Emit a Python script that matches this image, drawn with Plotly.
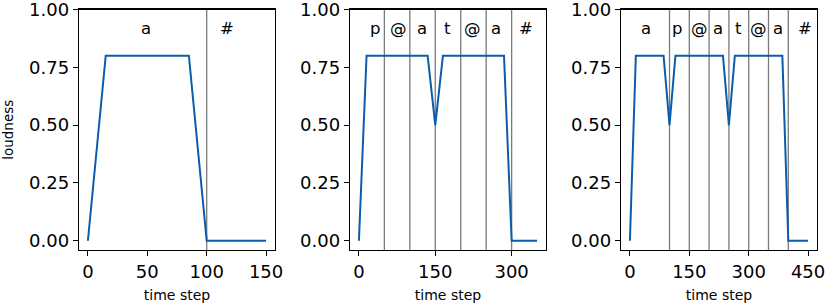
import plotly.graph_objects as go

# Panel 1: "a"
t1 = [0, 15, 85, 100, 150]
v1 = [0, 0.8, 0.8, 0, 0]
bounds1 = [100]
labels1 = ["a", "#"]
label_x1 = [49, 117]
ticks1 = [0, 50, 100, 150]

# Panel 2: "p@at@a"
t2 = [0, 15, 135, 150, 165, 285, 300, 350]
v2 = [0, 0.8, 0.8, 0.5, 0.8, 0.8, 0, 0]
bounds2 = [50, 100, 150, 200, 250, 300]
labels2 = ["p", "@", "a", "t", "@", "a", "#"]
label_x2 = [32, 77, 123, 174, 223, 270, 329]
ticks2 = [0, 150, 300]

# Panel 3: "ap@at@a"
t3 = [0, 15, 85, 100, 115, 235, 250, 265, 385, 400, 450]
v3 = [0, 0.8, 0.8, 0.5, 0.8, 0.8, 0.5, 0.8, 0.8, 0, 0]
bounds3 = [100, 150, 200, 250, 300, 350, 400]
labels3 = ["a", "p", "@", "a", "t", "@", "a", "#"]
label_x3 = [40, 120, 177, 223, 275, 326, 374, 441]
ticks3 = [0, 150, 300, 450]

yticks = [0, 0.25, 0.5, 0.75, 1.0]
ytick_text = ["0.00", "0.25", "0.50", "0.75", "1.00"]

W, H = 829, 306
xdoms = [(79 / W, 275 / W), (350 / W, 546 / W), (621 / W, 817 / W)]
ydom = ((H - 250) / H, (H - 9.5) / H)

panels = [
    (t1, v1, bounds1, labels1, label_x1, ticks1),
    (t2, v2, bounds2, labels2, label_x2, ticks2),
    (t3, v3, bounds3, labels3, label_x3, ticks3),
]

FONT = "DejaVu Sans"
LINE = "#0b5cad"

fig = go.Figure()
shapes = []
annotations = []
layout = {}
for i, (t, v, bounds, labels, lx, ticks) in enumerate(panels):
    n = i + 1
    xa = "x" if n == 1 else f"x{n}"
    ya = "y" if n == 1 else f"y{n}"
    xmax = t[-1]
    pad = xmax * 0.05
    for b in bounds:
        shapes.append(dict(type="line", xref=xa, yref=f"{ya} domain", x0=b, x1=b,
                           y0=0, y1=1, line=dict(color="#7a7a7a", width=1.3), layer="below"))
    fig.add_trace(go.Scatter(x=t, y=v, mode="lines", line=dict(color=LINE, width=2),
                             xaxis=xa, yaxis=ya, showlegend=False, hoverinfo="skip"))
    for lab, x in zip(labels, lx):
        annotations.append(dict(x=x, y=0.92, xref=xa, yref=ya, text=lab, showarrow=False,
                                font=dict(family=FONT, size=16.5, color="black"),
                                xanchor="center", yanchor="middle"))
    layout[f"xaxis{'' if n == 1 else n}"] = dict(
        domain=list(xdoms[i]), range=[-pad, xmax + pad], anchor=ya, automargin=False,
        tickvals=ticks, ticktext=[str(k) for k in ticks], ticks="outside", ticklen=5,
        tickwidth=1, tickcolor="black", showline=True, linecolor="black", linewidth=1.2,
        mirror=True, showgrid=False, zeroline=False, ticklabeloverflow="allow",
        tickfont=dict(family=FONT, size=18, color="black"),
        title=dict(text="time step", font=dict(family=FONT, size=14, color="black"), standoff=9),
    )
    layout[f"yaxis{'' if n == 1 else n}"] = dict(
        domain=list(ydom), range=[-0.04, 1.0001], anchor=xa, automargin=False,
        tickvals=yticks, ticktext=ytick_text, ticks="outside", ticklen=5,
        tickwidth=1, tickcolor="black", showline=True, linecolor="black", linewidth=1.2,
        mirror=True, showgrid=False, zeroline=False, ticklabeloverflow="allow",
        tickfont=dict(family=FONT, size=18, color="black"),
        title=dict(text="loudness" if n == 1 else "", font=dict(family=FONT, size=13.5, color="black"),
                   standoff=14),
    )

fig.update_layout(width=W, height=H, margin=dict(l=0, r=0, t=0, b=0),
                  plot_bgcolor="white", paper_bgcolor="white", hovermode=False,
                  shapes=shapes, annotations=annotations, **layout)
fig.write_html("out.html", config={"displayModeBar": False, "staticPlot": True},
               post_script="document.body.style.margin='0';")
